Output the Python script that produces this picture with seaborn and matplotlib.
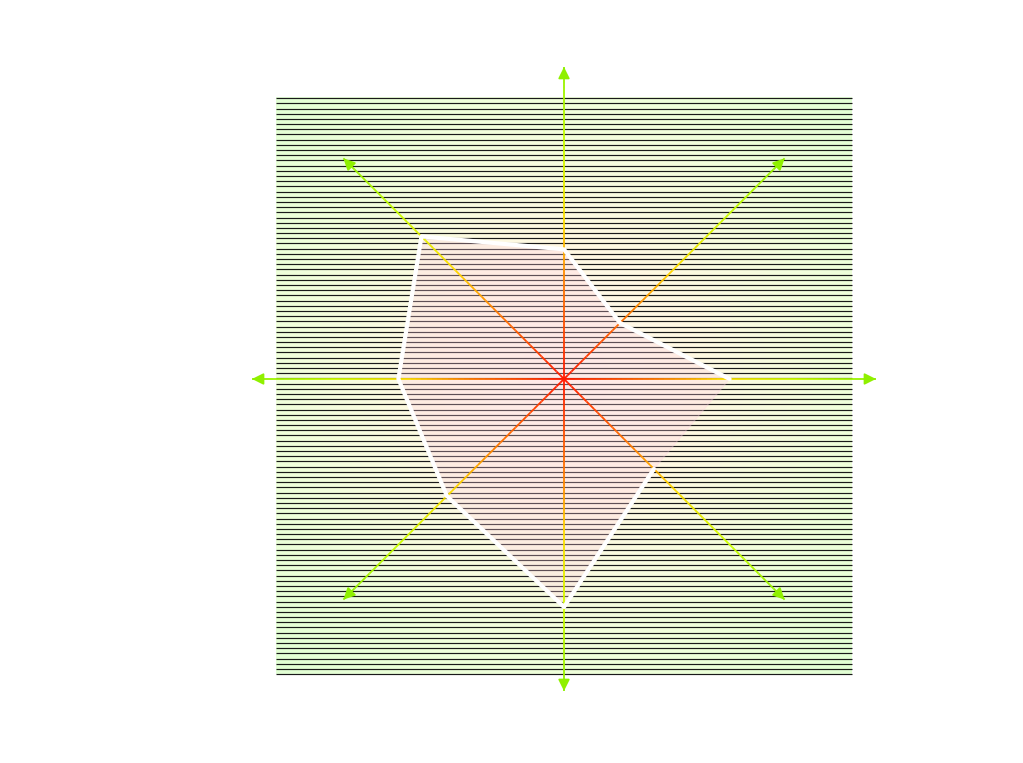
import numpy as np
import pandas as pd
import seaborn as sns
import matplotlib
matplotlib.use('Agg')
import matplotlib.pyplot as plt
from matplotlib.collections import LineCollection
from matplotlib.colors import LinearSegmentedColormap

sns.set_theme(style="white")

# data: 8 spokes, counter-clockwise starting at the right
angles_deg = [0, 45, 90, 135, 180, 225, 270, 315]
values = [0.69, 0.33, 0.54, 0.84, 0.69, 0.69, 0.95, 0.53]
arrow_len = 1.3

fig = plt.figure(figsize=(10.23, 7.63), dpi=100)
ax = fig.add_axes([0, 0, 1, 1])
ax.set_xlim(-2.35, 1.9125)
ax.set_ylim(-1.6, 1.579)
ax.axis('off')

# radial gradient background
bg_cmap = LinearSegmentedColormap.from_list("bg", ["#fff6ec", "#fff9e2", "#f2ffdc", "#e2ffd4"])
xx, yy = np.meshgrid(np.linspace(-1.2, 1.2, 300), np.linspace(-1.23, 1.17, 300))
rr = np.sqrt(xx**2 + yy**2) / (1.2 * np.sqrt(2))
ax.imshow(rr, extent=[-1.2, 1.2, -1.23, 1.17], origin='lower', cmap=bg_cmap,
          vmin=0, vmax=1, aspect='auto', zorder=0)

# horizontal stripes
ax.hlines(np.linspace(-1.23, 1.17, 112), -1.2, 1.2, colors='#1a1a1a', lw=0.85, zorder=1)

# polygon
theta = np.deg2rad(angles_deg)
df = pd.DataFrame({'x': np.array(values) * np.cos(theta),
                   'y': np.array(values) * np.sin(theta)})
df = pd.concat([df, df.iloc[:1]], ignore_index=True)
ax.fill(df['x'], df['y'], color='#ffd0e4', alpha=0.3, zorder=2)
sns.lineplot(data=df, x='x', y='y', sort=False, color='white', lw=3, ax=ax, zorder=4)

# gradient arrows
arr_cmap = LinearSegmentedColormap.from_list(
    "arr", [(0, '#ff1a00'), (0.3, '#ff7a00'), (0.5, '#ffdd00'), (0.75, '#ccff00'), (1, '#8ff000')])
t = np.linspace(0, 1, 60)
for a in theta:
    px = t * arrow_len * np.cos(a)
    py = t * arrow_len * np.sin(a)
    pts = np.column_stack([px, py]).reshape(-1, 1, 2)
    segs = np.concatenate([pts[:-1], pts[1:]], axis=1)
    lc = LineCollection(segs, cmap=arr_cmap, lw=1.3, zorder=3)
    lc.set_array(t[:-1])
    ax.add_collection(lc)
    ax.annotate('', xy=(px[-1], py[-1]), xytext=(px[-3], py[-3]),
                arrowprops=dict(arrowstyle='-|>', color='#8ff000', lw=1.3,
                                mutation_scale=17, shrinkA=0, shrinkB=0), zorder=3)

fig.savefig('out.png', dpi=100)
